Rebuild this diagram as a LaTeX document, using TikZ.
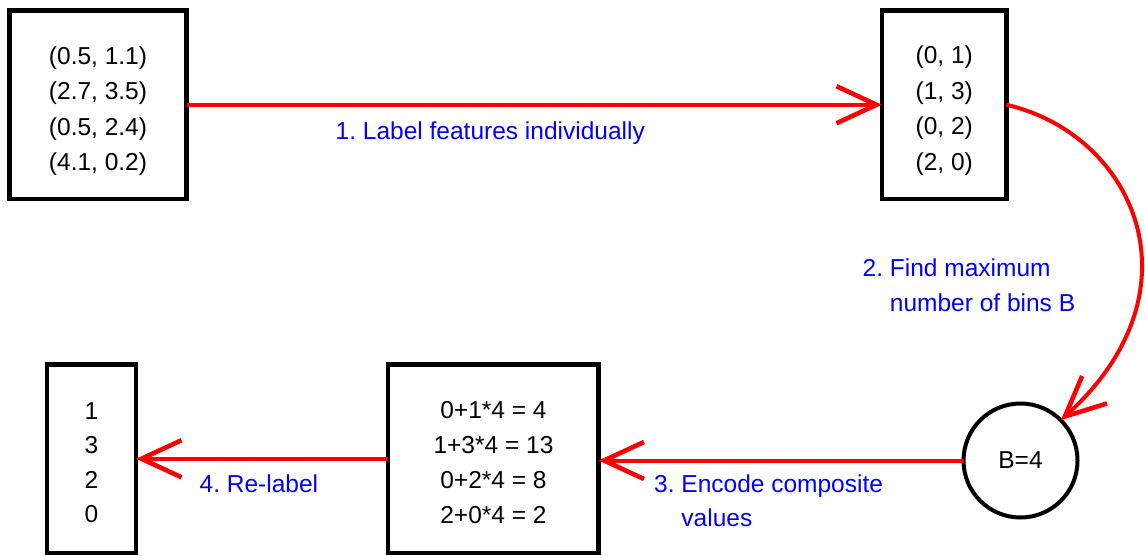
\documentclass[tikz,border=0pt]{standalone}
\usepackage{fontspec}
\setmainfont{Liberation Sans}
\usetikzlibrary{arrows.meta}
\definecolor{lblue}{RGB}{0,0,255}
\definecolor{lred}{RGB}{255,0,0}
\frenchspacing
\begin{document}
\begin{tikzpicture}[x=1pt,y=-1pt,
  box/.style={draw=black, line width=4.5pt, outer sep=0pt, inner sep=0pt, rectangle},
  ring/.style={draw=black, line width=4pt, outer sep=0pt, inner sep=0pt, circle, minimum size=114pt, font=\fontsize{24.5}{30}\selectfont},
  txt/.style={font=\fontsize{24.5}{35.5}\selectfont, align=center, inner sep=0pt},
  lbl/.style={font=\fontsize{24.5}{35}\selectfont, text=lblue, align=left, inner sep=0pt},
  arr/.style={draw=lred, line width=4pt, -{Straight Barb[length=40pt,width=37pt,line width=4.6pt]}}]
\useasboundingbox (0,0) rectangle (1145,556);

\node[box, minimum width=177pt, minimum height=188.5pt] (b1) at (98,104.75) {};
\node[txt, anchor=base] (t1) at (98,170.8) {(0.5, 1.1)\\(2.7, 3.5)\\(0.5, 2.4)\\(4.1, 0.2)};

\node[box, minimum width=124.3pt, minimum height=188.5pt] (b2) at (944.15,104.75) {};
\node[txt, anchor=base] (t2) at (944.2,170.5) {(0, 1)\\(1, 3)\\(0, 2)\\(2, 0)};

\node[box, minimum width=210.5pt, minimum height=188.5pt] (b3) at (493.25,458.75) {};
\node[txt, anchor=base, font=\fontsize{24.5}{35}\selectfont] (t3) at (493.5,523.3) {0+1*4 = 4\\1+3*4 = 13\\0+2*4 = 8\\2+0*4 = 2};

\node[box, minimum width=89pt, minimum height=188.5pt] (b4) at (91.5,458.75) {};
\node[txt, anchor=base, font=\fontsize{24.5}{34.3}\selectfont] (t4) at (91.5,522.4) {1\\3\\2\\0};

\node[ring] (c) at (1020.5,460.5) {B=4};

\draw[arr] (b1.east) -- (b2.west);
\draw[arr] (b2.east) .. controls (1134,134) and (1205,290) .. (c.45);
\draw[arr] (c.west) -- (c.west -| b3.east);
\draw[arr] (b3.west) -- (b4.east);

\node[lbl, anchor=base west] (l1) at (335.5,139.3) {1. Label features individually};
\node[lbl, anchor=base west, font=\fontsize{24.5}{35.7}\selectfont] (l2) at (862.5,311.7) {2. Find maximum\\\phantom{2. }number of bins B};
\node[lbl, anchor=base west, font=\fontsize{24.5}{34}\selectfont] (l3) at (654,526.7) {3. Encode composite\\\phantom{3. }values};
\node[lbl, anchor=base west] (l4) at (199.5,492.7) {4. Re-label};
\end{tikzpicture}
\end{document}
